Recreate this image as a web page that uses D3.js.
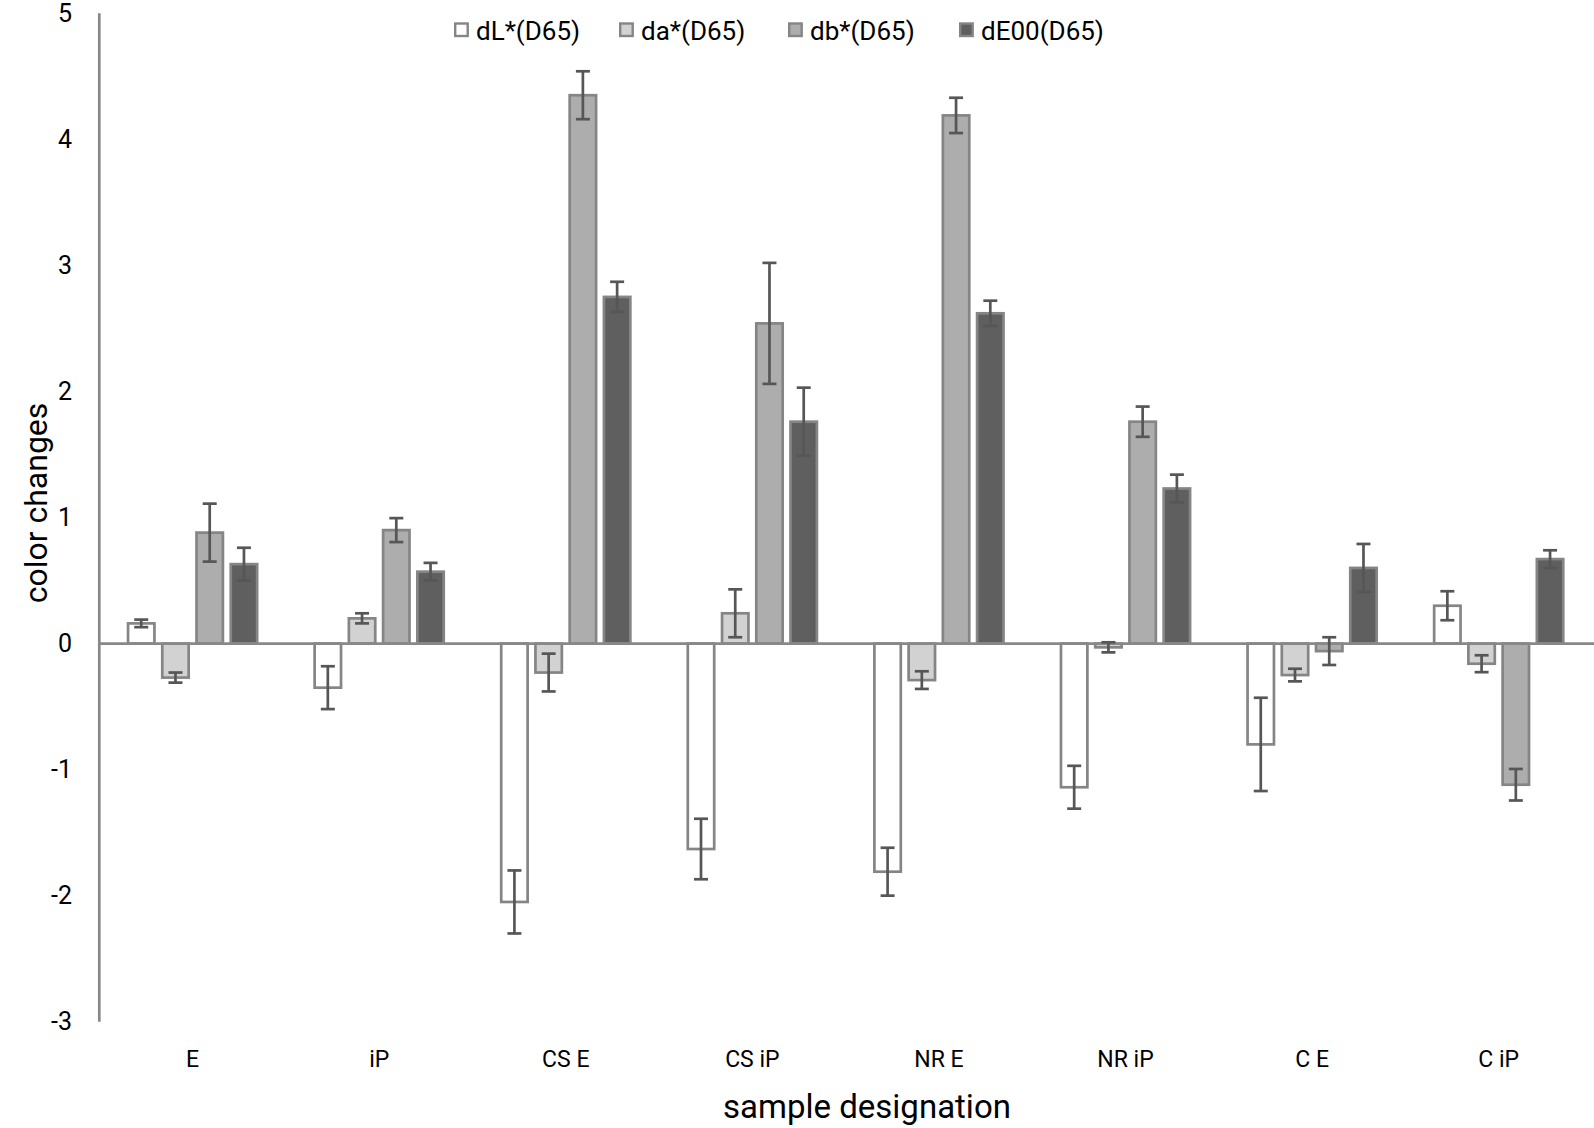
<!DOCTYPE html>
<html><head><meta charset="utf-8">
<script src="https://cdn.jsdelivr.net/npm/d3@7"></script>
<style>body{margin:0;background:#fff}svg{display:block}text{font-family:"Liberation Sans Narrow","Roboto",sans-serif;fill:#000}</style>
</head><body><svg id="c" width="1594" height="1128"></svg>
<script>
const categories = ["E","iP","CS E","CS iP","NR E","NR iP","C E","C iP"];
const seriesNames = ["dL*(D65)","da*(D65)","db*(D65)","dE00(D65)"];
const dL = [0.16,-0.35,-2.05,-1.63,-1.81,-1.14,-0.80,0.30];
const dLerr = [0.03,0.17,0.25,0.24,0.19,0.17,0.37,0.115];
const da = [-0.27,0.20,-0.23,0.24,-0.29,-0.03,-0.25,-0.16];
const daerr = [0.04,0.04,0.15,0.19,0.07,0.04,0.05,0.067];
const db = [0.88,0.90,4.35,2.54,4.19,1.76,-0.06,-1.12];
const dberr = [0.23,0.095,0.19,0.48,0.14,0.12,0.11,0.125];
const dE = [0.63,0.57,2.75,1.76,2.62,1.23,0.60,0.67];
const dEerr = [0.13,0.07,0.12,0.27,0.10,0.11,0.19,0.07];
const yTicks = [-3,-2,-1,0,1,2,3,4,5];
const fills = ["#ffffff","#d2d2d2","#adadad","#5f5f5f"];

const vals = [dL,da,db,dE], errs=[dLerr,daerr,dberr,dEerr];
const svg = d3.select("#c");
const x = d3.scaleBand().domain(categories).range([99.3,1592]).padding(0);
const xs = d3.scaleBand().domain(seriesNames).range([0,x.bandwidth()]).paddingInner(0.15).paddingOuter(0.8);
const y = d3.scaleLinear().domain([-3,5]).range([1021.7,13.3]);
const sw = 2.7;

// y axis
svg.append("line").attr("x1",99.3).attr("x2",99.3).attr("y1",y(5)).attr("y2",y(-3)).attr("stroke","#888").attr("stroke-width",2.7);
svg.selectAll(".yt").data(yTicks).join("text").attr("x",72).attr("y",d=>y(d)).attr("text-anchor","end").attr("dominant-baseline","central").style("font-size","25px").text(d=>d);

const data=[];
categories.forEach((c,i)=>seriesNames.forEach((s,j)=>data.push({c,s,j,v:vals[j][i],e:errs[j][i]})));

svg.selectAll(".bar").data(data).join("rect")
 .attr("x",d=>x(d.c)+xs(d.s)+sw/2).attr("width",xs.bandwidth()-sw)
 .attr("y",d=>Math.min(y(d.v),y(0))).attr("height",d=>Math.abs(y(d.v)-y(0)))
 .attr("fill",d=>fills[d.j]).attr("stroke","#858585").attr("stroke-width",sw);

// zero line
svg.append("line").attr("x1",99.3).attr("x2",1594).attr("y1",y(0)).attr("y2",y(0)).attr("stroke","#888").attr("stroke-width",2.7);

// error bars
const eg = svg.append("g").attr("stroke","#565656").attr("stroke-width",2.7);
data.forEach(d=>{
  const cx = x(d.c)+xs(d.s)+xs.bandwidth()/2;
  eg.append("line").attr("x1",cx).attr("x2",cx).attr("y1",y(d.v+d.e)).attr("y2",y(d.v-d.e));
  [d.v+d.e,d.v-d.e].forEach(v=>eg.append("line").attr("x1",cx-7).attr("x2",cx+7).attr("y1",y(v)).attr("y2",y(v)));
});

// category labels
svg.selectAll(".xl").data(categories).join("text").attr("x",d=>x(d)+x.bandwidth()/2).attr("y",1059).attr("text-anchor","middle").attr("dominant-baseline","central").style("font-size","23px").text(d=>d);

// axis titles
svg.append("text").attr("x",867).attr("y",1106).attr("text-anchor","middle").attr("dominant-baseline","central").style("font-size","33px").text("sample designation");
svg.append("text").attr("transform","translate(36,503) rotate(-90)").attr("text-anchor","middle").attr("dominant-baseline","central").style("font-size","32px").text("color changes");

// legend
const lx = [454,619,788,959];
seriesNames.forEach((s,j)=>{
  svg.append("rect").attr("x",lx[j]+1.2).attr("y",23.5).attr("width",12.5).attr("height",12.5).attr("fill",fills[j]).attr("stroke","#858585").attr("stroke-width",2.4);
  svg.append("text").attr("x",lx[j]+22).attr("y",30.5).attr("dominant-baseline","central").style("font-size","26px").text(s);
});
</script></body></html>
